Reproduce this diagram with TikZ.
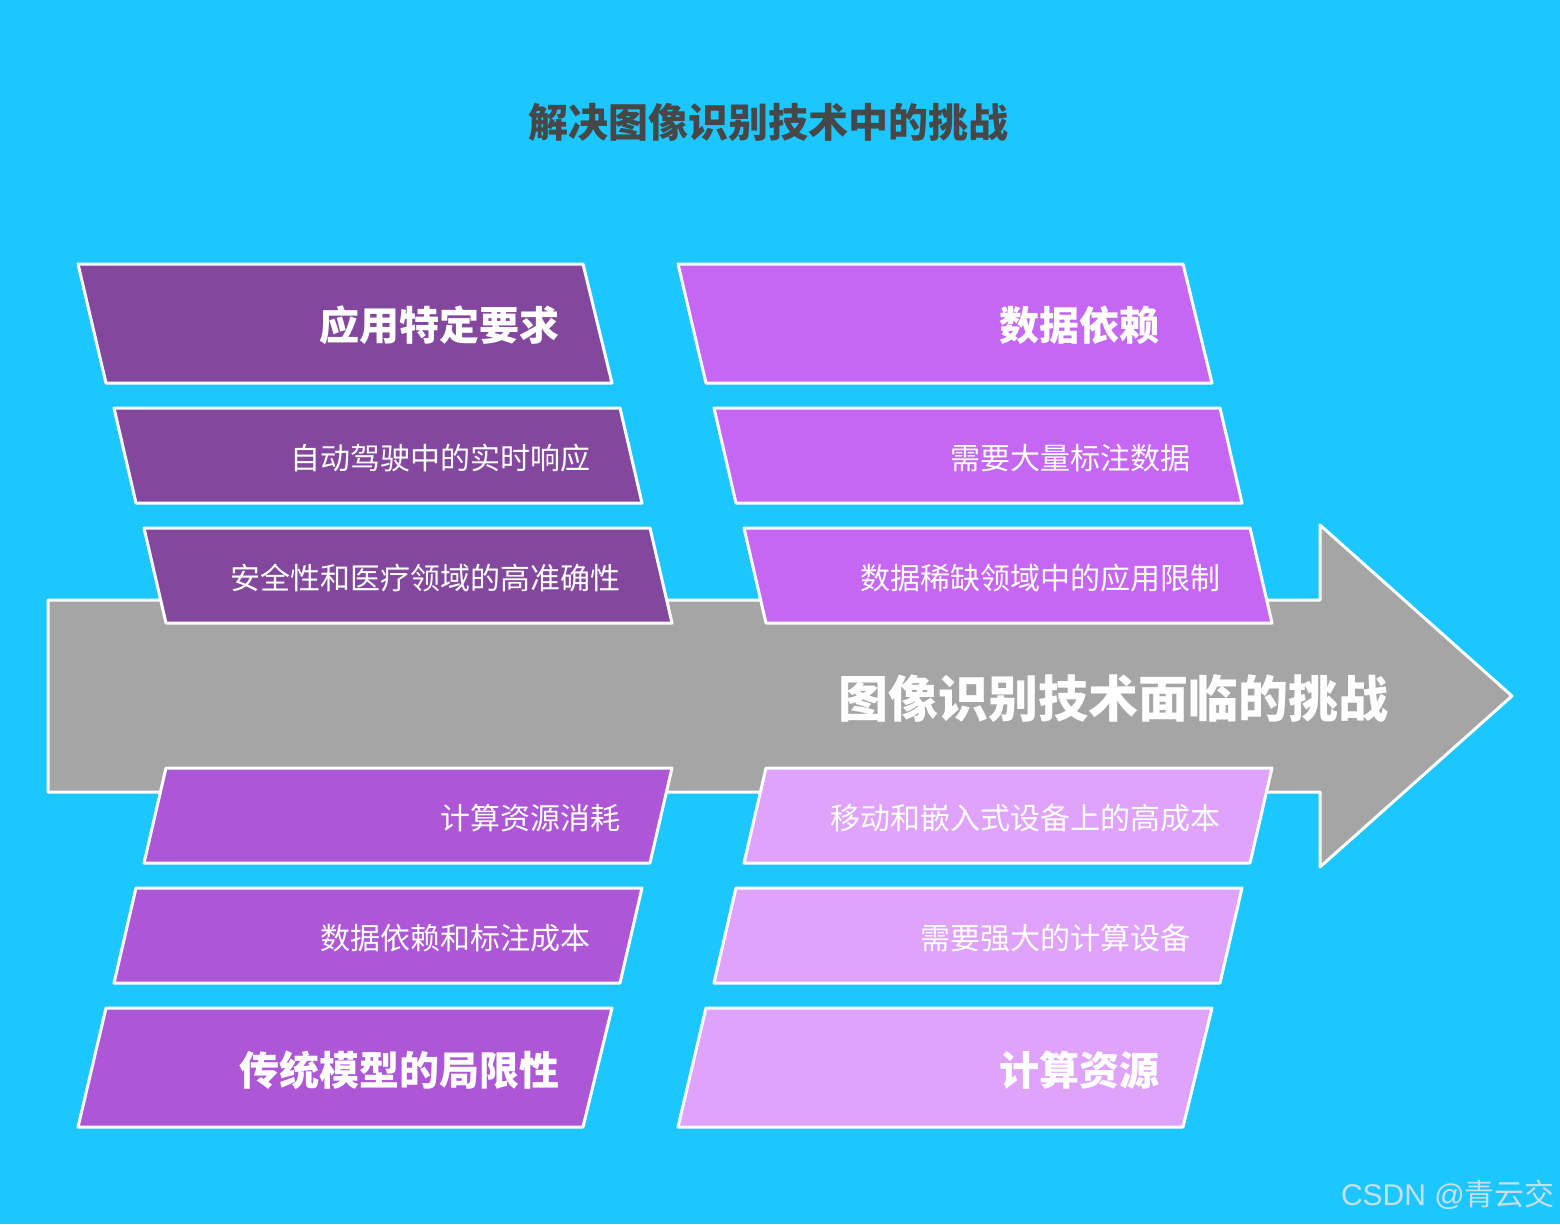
\documentclass[tikz,border=0pt]{standalone}
\usepackage{fontspec}
\setmainfont{Noto Sans CJK SC}
\newfontfamily\wmfont{Liberation Sans}
\newfontfamily\wmcjk{Noto Sans CJK SC}
\definecolor{bgc}{HTML}{1BC7FE}
\definecolor{arrowc}{HTML}{A5A5A5}
\definecolor{pdark}{HTML}{83489E}
\definecolor{pmid}{HTML}{C567F3}
\definecolor{pbot}{HTML}{AD57D7}
\definecolor{plight}{HTML}{E0A3FC}
\definecolor{titlec}{HTML}{474747}
\definecolor{wmc}{HTML}{C6DFEA}
\tikzset{
  shapeline/.style={draw=white, line width=3pt, line join=round},
  headtxt/.style={text=white, anchor=east, inner sep=0pt, font=\fontsize{40}{44}\selectfont\bfseries},
  subtxt/.style={text=white, anchor=east, inner sep=0pt, font=\fontsize{30}{34}\selectfont},
}
\begin{document}
\begin{tikzpicture}[x=1pt,y=-1pt]
\fill[bgc] (0,0) rectangle (1560,1224);
\useasboundingbox (0,0) rectangle (1560,1224);
% title
\node[text=titlec, font=\fontsize{40}{44}\selectfont\bfseries, inner sep=0pt] (title) at (768,122) {解决图像识别技术中的挑战};
% arrow
\draw[shapeline, fill=arrowc] (48,600) -- (1320,600) -- (1320,525) -- (1512,696) -- (1320,867) -- (1320,792) -- (48,792) -- cycle;
\node[text=white, anchor=east, inner sep=0pt, font=\fontsize{50}{56}\selectfont\bfseries] (main) at (1389,698) {图像识别技术面临的挑战};
% top left
\draw[shapeline, fill=pdark] (78,264) -- (583,264) -- (612,383) -- (106,383) -- cycle;
\node[headtxt] (a1) at (560,325) {应用特定要求};
\draw[shapeline, fill=pdark] (114,408) -- (620,408) -- (642,503) -- (136,503) -- cycle;
\node[subtxt] (a2) at (591,458) {自动驾驶中的实时响应};
\draw[shapeline, fill=pdark] (144,528) -- (650,528) -- (672,623) -- (166,623) -- cycle;
\node[subtxt] (a3) at (621,578) {安全性和医疗领域的高准确性};
% top right
\draw[shapeline, fill=pmid] (678,264) -- (1183,264) -- (1212,383) -- (706,383) -- cycle;
\node[headtxt] (b1) at (1160,325) {数据依赖};
\draw[shapeline, fill=pmid] (714,408) -- (1220,408) -- (1242,503) -- (736,503) -- cycle;
\node[subtxt] (b2) at (1191,458) {需要大量标注数据};
\draw[shapeline, fill=pmid] (744,528) -- (1250,528) -- (1272,623) -- (766,623) -- cycle;
\node[subtxt] (b3) at (1221,578) {数据稀缺领域中的应用限制};
% bottom left
\draw[shapeline, fill=pbot] (166,768) -- (672,768) -- (650,863) -- (144,863) -- cycle;
\node[subtxt] (c1) at (621,818) {计算资源消耗};
\draw[shapeline, fill=pbot] (136,888) -- (642,888) -- (620,983) -- (114,983) -- cycle;
\node[subtxt] (c2) at (591,938) {数据依赖和标注成本};
\draw[shapeline, fill=pbot] (106,1008) -- (612,1008) -- (583,1127) -- (78,1127) -- cycle;
\node[headtxt] (c3) at (560,1070) {传统模型的局限性};
% bottom right
\draw[shapeline, fill=plight] (766,768) -- (1272,768) -- (1250,863) -- (744,863) -- cycle;
\node[subtxt] (d1) at (1221,818) {移动和嵌入式设备上的高成本};
\draw[shapeline, fill=plight] (736,888) -- (1242,888) -- (1220,983) -- (714,983) -- cycle;
\node[subtxt] (d2) at (1191,938) {需要强大的计算设备};
\draw[shapeline, fill=plight] (706,1008) -- (1212,1008) -- (1183,1127) -- (678,1127) -- cycle;
\node[headtxt] (d3) at (1160,1070) {计算资源};
% watermark
\node[text=wmc, anchor=east, inner sep=0pt, font=\fontsize{30}{34}\selectfont] (wm) at (1555,1195) {{\wmfont CSDN @}{\wmcjk 青云交}};
\end{tikzpicture}
\end{document}
